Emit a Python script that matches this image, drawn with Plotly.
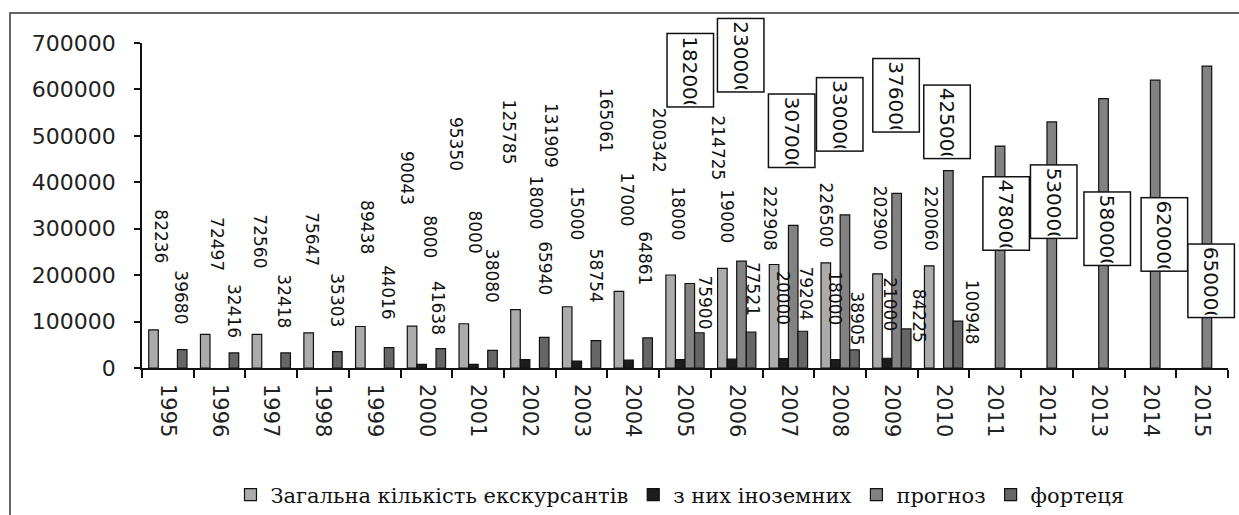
import plotly.graph_objects as go

# ---------------- data ----------------
years = [str(y) for y in range(1995, 2016)]
total_visitors = [82236, 72497, 72560, 75647, 89438, 90043, 95350, 125785, 131909, 165061,
                  200342, 214725, 222908, 226500, 202900, 220060, None, None, None, None, None]
foreign_visitors = [None, None, None, None, None, 8000, 8000, 18000, 15000, 17000,
                    18000, 19000, 20000, 18000, 21000, None, None, None, None, None, None]
forecast = [None] * 10 + [182000, 230000, 307000, 330000, 376000, 425000,
                          478000, 530000, 580000, 620000, 650000]
fortress = [39680, 32416, 32418, 35303, 44016, 41638, 38080, 65940, 58754, 64861,
            75900, 77521, 79204, 38905, 84225, 100948, None, None, None, None, None]
series_names = ["Загальна кількість екскурсантів", "з них іноземних", "прогноз", "фортеця"]
y_ticks = [0, 100000, 200000, 300000, 400000, 500000, 600000, 700000]

# ---------------- label placement (pixel offsets, styling only) ----------------
total_dy = [65, 61, 64, 65, 70, 119, 151, 143, 137, 136, 100, 86, 12, 13, 21, 13]
total_dx = [8, 11, 3, 3, 6, -5, -8, -7, -16, -13, -12, -4, -4, 0, 2, 1]
foreign_dy = [104, 109, 128, 119, 132, 117, 114, 32, 32, 25]
foreign_dx = [9, 2, 11, 0, -2, -2, -5, 0, 0, 3]
forecast_dy = [213, 206, 95, 100, 98, 49, -67, -80, -130, -154, -215]
forecast_dx = [1, -1, -2, -5, -1, -1, 6, 2, 4, 9, 4]
fortress_dy = [23, 13, 23, 22, 26, 12, 45, 40, 36, 51, 1, 14, 9, 2, -16, -26]
fortress_dx = [-1, 0, -2, 0, -1, -2, -1, 0, 0, -3, 6, 2, 3, 3, 13, 14]

# ---------------- layout geometry ----------------
W, H = 1239, 515
ML, MR, MT, MB = 142, 11, 43, 147
BARGAP = 0.26
plot_w = W - ML - MR
plot_h = H - MT - MB
cat_w = plot_w / len(years)
bar_w = cat_w * (1 - BARGAP) / 4
slot_shift = [(k - 1.5) * bar_w for k in range(4)]

colors = ["#ababab", "#1c1c1c", "#828282", "#666666"]
series = [total_visitors, foreign_visitors, forecast, fortress]

fig = go.Figure()
for name, vals, col in zip(series_names, series, colors):
    fig.add_trace(go.Bar(
        x=years, y=vals, name=name,
        marker=dict(color=col, line=dict(color="#111111", width=1.2)),
    ))

annotations = []
label_font = dict(family="DejaVu Sans", size=17, color="#111111")


def add_labels(vals, slot, dys, dxs):
    idx = [i for i, v in enumerate(vals) if v is not None]
    for j, i in enumerate(idx):
        annotations.append(dict(
            x=i, y=vals[i], xref="x", yref="y",
            text=str(vals[i]), showarrow=False, textangle=90,
            xanchor="center", yanchor="bottom",
            xshift=slot_shift[slot] + dxs[j], yshift=dys[j],
            font=label_font,
        ))


add_labels(total_visitors, 0, total_dy, total_dx)
add_labels(foreign_visitors, 1, foreign_dy, foreign_dx)
add_labels(fortress, 3, fortress_dy, fortress_dx)

# boxed forecast labels
fidx = [i for i, v in enumerate(forecast) if v is not None]
for j, i in enumerate(fidx):
    annotations.append(dict(
        x=i, y=forecast[i], xref="x", yref="y",
        text=str(forecast[i]), showarrow=False, textangle=90,
        xanchor="center", yanchor="middle",
        xshift=slot_shift[2] + forecast_dx[j], yshift=forecast_dy[j],
        width=68, height=41, align="left",
        bgcolor="white", bordercolor="#111111", borderwidth=1.5, borderpad=2,
        font=dict(family="DejaVu Sans", size=20, color="#111111"),
    ))


def px_x(p):
    return (p - ML) / plot_w


def px_y(p):
    return (H - MB - p) / plot_h


shapes = [dict(type="rect", xref="paper", yref="paper",
               x0=px_x(10), x1=px_x(1250), y0=px_y(525), y1=px_y(13),
               line=dict(color="#333333", width=1.5), fillcolor="rgba(0,0,0,0)", layer="below")]

fig.update_layout(
    width=W, height=H,
    margin=dict(l=ML, r=MR, t=MT, b=MB, autoexpand=False),
    barmode="group", bargap=BARGAP, bargroupgap=0,
    plot_bgcolor="white", paper_bgcolor="white",
    showlegend=True,
    legend=dict(orientation="h", x=px_x(680), xanchor="center", y=px_y(495), yanchor="middle",
                font=dict(family="DejaVu Serif", size=21, color="#111111"),
                itemwidth=30, tracegroupgap=0),
    annotations=annotations,
    shapes=shapes,
    xaxis=dict(type="category", range=[-0.5, len(years) - 0.5], automargin=False,
               showline=True, linecolor="#111111", linewidth=1.5,
               ticks="outside", tickson="boundaries", ticklen=8, tickcolor="#111111", tickwidth=1.5,
               tickangle=90, ticklabelstandoff=10,
               tickfont=dict(family="DejaVu Sans", size=21, color="#222222"),
               showgrid=False, zeroline=False),
    yaxis=dict(range=[0, 700000], tickvals=y_ticks, tickformat="d", automargin=False,
               showline=True, linecolor="#111111", linewidth=1.5,
               ticks="outside", ticklen=6, tickcolor="#111111", tickwidth=1.5,
               ticklabelstandoff=14,
               tickfont=dict(family="DejaVu Sans", size=22, color="#222222"),
               showgrid=False, zeroline=False),
)

fig.write_html("out.html", config={"displayModeBar": False},
               post_script="document.body.style.margin='0px';")
